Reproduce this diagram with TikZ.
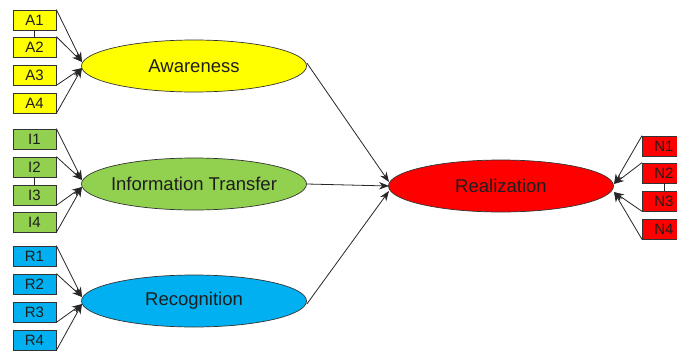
\documentclass[tikz,border=0pt]{standalone}
\usepackage{fontspec}
\setmainfont{Liberation Sans}
\usetikzlibrary{shapes.geometric,arrows.meta}
\definecolor{cy}{RGB}{255,255,0}
\definecolor{cg}{RGB}{146,208,80}
\definecolor{cb}{RGB}{0,176,240}
\definecolor{cr}{RGB}{255,0,0}
\definecolor{txt}{RGB}{30,30,30}
\begin{document}
\begin{tikzpicture}[x=1pt,y=-1pt,
  ind/.style={draw=black!80,line width=0.7pt,minimum width=43pt,minimum height=20pt,inner sep=0pt,font=\fontsize{15}{15}\selectfont,text=txt},
  lat/.style={ellipse,draw=black!80,line width=0.7pt,minimum width=225pt,minimum height=52pt,inner ysep=0pt,inner xsep=-40pt,font=\fontsize{18.5}{19}\selectfont,text=txt},
  arr/.style={-{Stealth[length=10pt,width=7.5pt]},line width=0.8pt,black!85},
  lnk/.style={line width=0.7pt,black!85}]
\useasboundingbox (0,0) rectangle (677,351);
\begin{scope}
\clip (0,0) rectangle (677,351);
% latent
\node[lat,fill=cy] (aw) at (194,66) {Awareness};
\node[lat,fill=cg] (it) at (194,184) {Information Transfer};
\node[lat,fill=cb] (rc) at (194,301) {Recognition};
\node[lat,fill=cr] (re) at (501,186) {Realization};
% indicators
\foreach \n/\y in {1/20,2/47,3/75,4/103}{\node[ind,fill=cy] (A\n) at (34.5,\y) {A\n};}
\foreach \n/\y in {1/139,2/167,3/195,4/222}{\node[ind,fill=cg] (I\n) at (34.5,\y) {I\n};}
\foreach \n/\y in {1/256,2/284,3/312,4/340}{\node[ind,fill=cb] (R\n) at (34.5,\y) {R\n};}
\foreach \n/\y in {1/146,2/173,3/201,4/229}{\node[ind,fill=cr,anchor=west] (N\n) at (642,\y) {N\n};}
% tip coordinates
\coordinate (aw1) at (82,62); \coordinate (aw2) at (82,68);
\coordinate (it1) at (82,180); \coordinate (it2) at (82,187);
\coordinate (rc1) at (82,297); \coordinate (rc2) at (82,304);
\coordinate (re1) at (614,184); \coordinate (re2) at (614,192);
\coordinate (rl1) at (389,182); \coordinate (rl2) at (389,186); \coordinate (rl3) at (389,191);
% small links
\draw[lnk] (A1.south) -- (A2.north);
\draw[lnk] (I2.south) -- (I3.north);
\draw[lnk] (N2.south) -- (N3.north);
% arrows
\draw[arr] (A1.north east) -- (aw1);
\draw[arr] (A2.north east) -- (aw1);
\draw[arr] (A3.south east) -- (aw2);
\draw[arr] (A4.south east) -- (aw2);
\draw[arr] (I1.north east) -- (it1);
\draw[arr] (I2.north east) -- (it1);
\draw[arr] (I3.south east) -- (it2);
\draw[arr] (I4.south east) -- (it2);
\draw[arr] (R1.north east) -- (rc1);
\draw[arr] (R2.north east) -- (rc1);
\draw[arr] (R3.south east) -- (rc2);
\draw[arr] (R4.south east) -- (rc2);
\draw[arr] (N1.north west) -- (re1);
\draw[arr] (N2.north west) -- (re1);
\draw[arr] (N3.south west) -- (re2);
\draw[arr] (N4.south west) -- (re2);
\draw[arr] ([yshift=3pt]aw.east) -- (rl1);
\draw[arr] (it.east) -- (rl2);
\draw[arr] ([yshift=-3pt]rc.east) -- (rl3);
\end{scope}
\end{tikzpicture}
\end{document}
